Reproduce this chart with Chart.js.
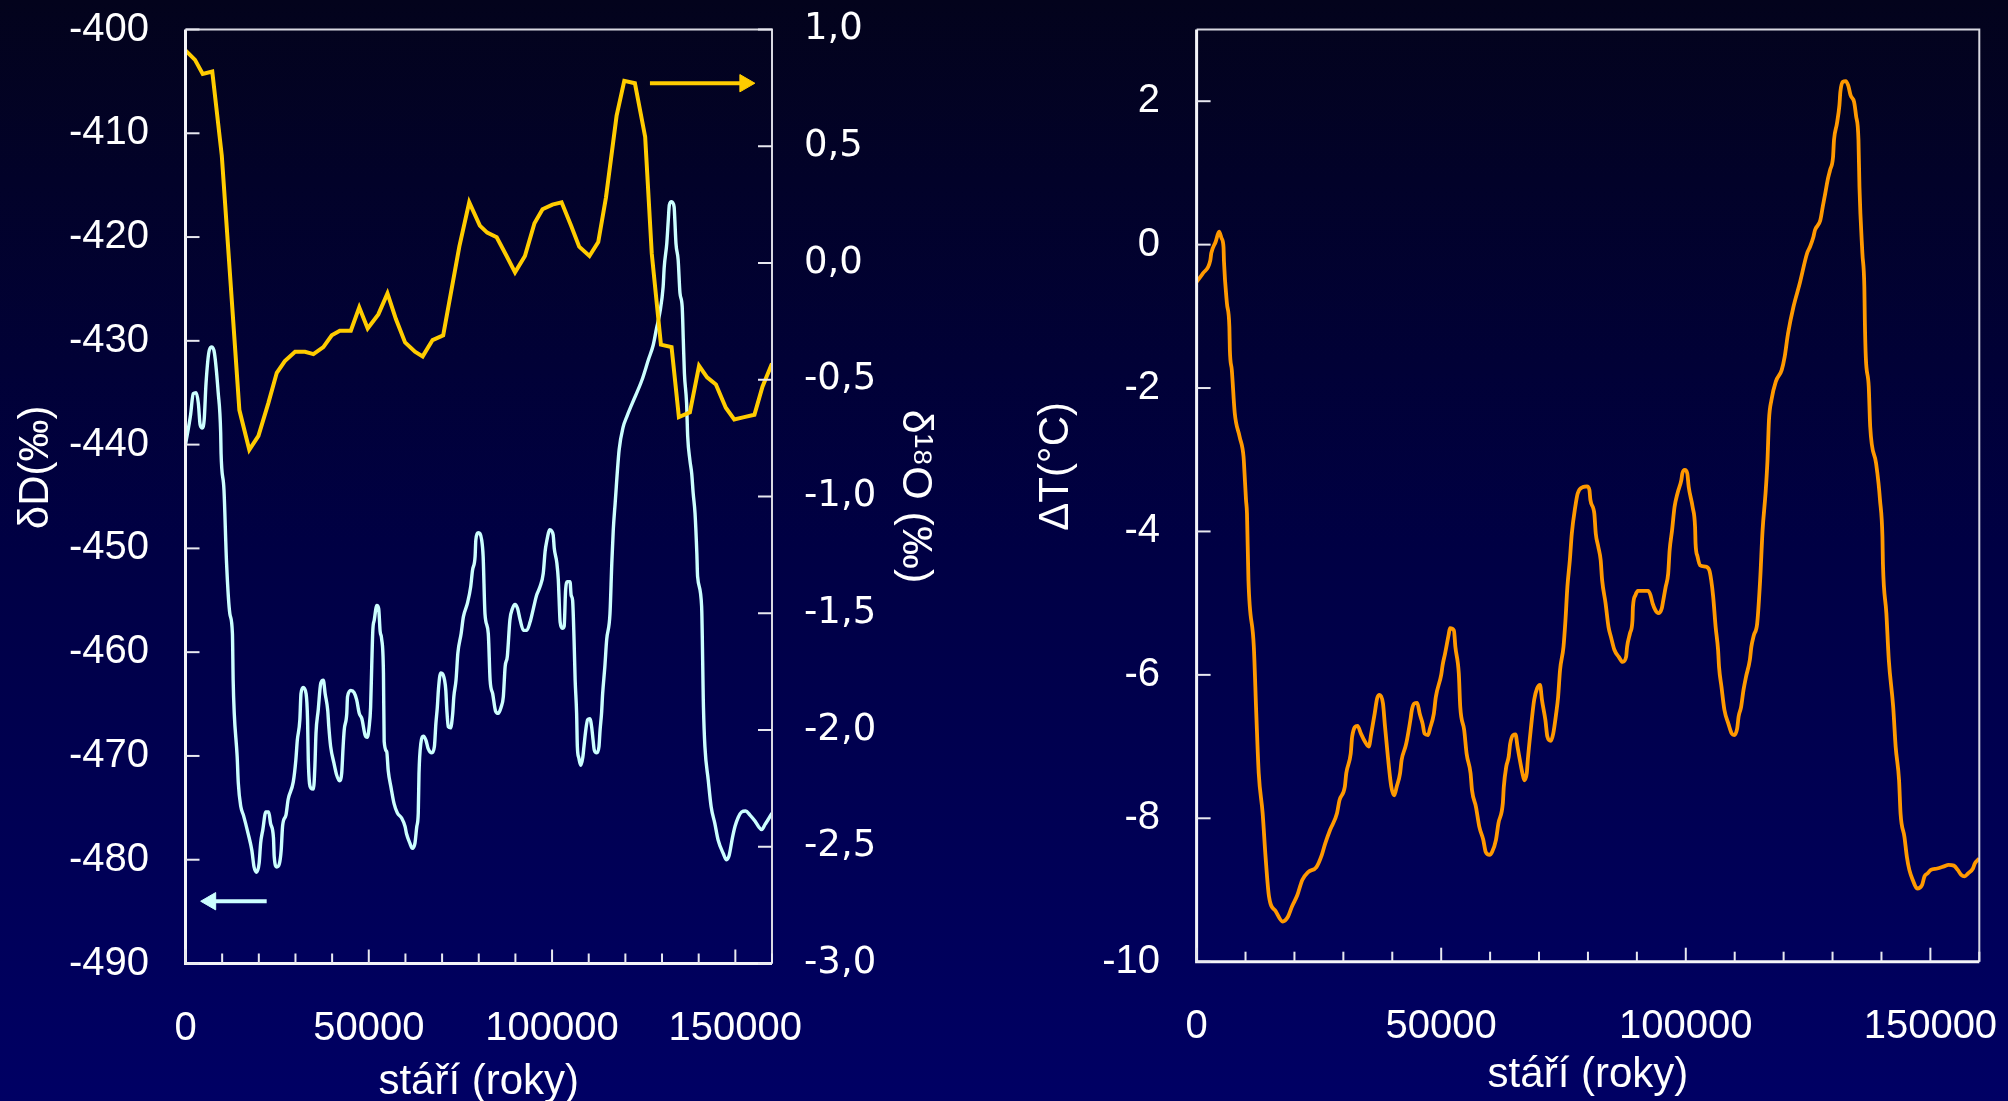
<!DOCTYPE html>
<html><head><meta charset="utf-8">
<script src="https://cdn.jsdelivr.net/npm/chart.js@4.4.1/dist/chart.umd.min.js"></script>
<style>
html,body{margin:0;padding:0;width:2008px;height:1101px;overflow:hidden;
background:linear-gradient(to bottom,#03031c 0%,#000044 50%,#000064 100%);}
canvas{position:absolute;top:0;}
#cA{left:0}
#cB{left:1000px}
</style></head><body>
<canvas id="cA" width="1000" height="1101"></canvas>
<canvas id="cB" width="1008" height="1101"></canvas>
<script>
// ---------- DATA ----------
const o18Age = [0,2600,4700,7300,9900,14700,17400,19900,22600,24900,27100,29900,32600,34900,37600,39900,42100,45100,47400,49700,52600,55100,57400,59900,62600,64700,67400,70300,74700,77400,80300,82300,84900,87600,89900,92600,95200,97400,100100,102600,105200,107400,110200,112600,114700,117600,119700,122600,125400,127200,129700,132600,134600,137600,140100,142300,144700,147400,149700,152400,155200,157400,160000];
const o18Val = [0.91,0.87,0.81,0.82,0.46,-0.63,-0.80,-0.74,-0.60,-0.47,-0.42,-0.38,-0.38,-0.39,-0.36,-0.31,-0.29,-0.29,-0.19,-0.28,-0.22,-0.13,-0.24,-0.34,-0.38,-0.40,-0.33,-0.31,0.07,0.26,0.16,0.13,0.11,0.03,-0.04,0.03,0.17,0.23,0.25,0.26,0.16,0.07,0.03,0.09,0.28,0.63,0.78,0.77,0.54,0.04,-0.35,-0.36,-0.66,-0.64,-0.44,-0.49,-0.52,-0.62,-0.67,-0.66,-0.65,-0.53,-0.43];

const dDAge = [0,1400,2100,2900,3500,4000,4600,5100,5600,6500,7200,7900,8900,9600,9700,10500,11200,12100,12800,13000,13300,14100,14400,15100,15800,17100,18100,18700,19400,20100,20500,21100,21900,22700,23200,24000,24200,24900,25600,26100,26500,27400,28000,29400,30100,30500,31200,31500,32100,32900,33300,33500,34200,34900,35300,35600,36200,36900,37600,38100,38800,39100,39600,40500,41200,42000,42600,43000,43300,44000,44200,45100,46000,46700,47400,48100,49000,49600,50100,50500,50800,51100,51500,52200,52700,53100,53500,54000,54200,54900,55300,56100,56900,57800,59000,59900,60300,61200,61900,62600,63100,63500,63700,64200,64900,65600,66200,67200,67900,68300,68700,69000,69600,70300,71000,71300,71700,72300,72900,73200,73800,74300,75200,75800,76900,77800,78300,79000,79200,79900,80800,81200,81700,82600,83100,83800,84600,85300,86100,86700,87200,87800,88500,89200,89900,90600,91300,92200,93100,94000,94900,95800,96700,97600,98100,98500,99400,100300,100600,101300,101700,101900,102200,102800,103300,103700,104200,104900,105200,105600,106000,106300,106700,106900,107300,107800,108400,108700,109200,109700,110300,110800,111200,111500,112200,112800,113100,113500,113800,114400,114900,115800,116300,116700,117200,118300,119400,120400,121900,124500,126300,127600,128500,129400,130300,130600,131300,131700,132000,132600,133300,133500,133800,134400,134900,135500,135800,136100,136700,137000,137600,138100,138500,139000,139500,139700,140800,141300,141700,142600,143400,144400,145300,146700,147600,148300,149200,149900,150800,151700,152800,154000,155400,156300,157200,158100,159000,160000];
const dDVal = [-440.0,-437.1,-435.1,-435.0,-436.0,-438.1,-438.4,-437.6,-434.1,-430.9,-430.6,-431.2,-434.9,-438.9,-440.8,-444.4,-451.4,-456.3,-458.2,-462.7,-465.9,-470.1,-472.6,-474.9,-475.7,-477.5,-479.1,-480.7,-481.2,-480.3,-478.4,-477.1,-475.4,-475.4,-476.5,-477.9,-479.7,-480.7,-480.4,-479.1,-476.7,-475.7,-474.2,-472.5,-470.4,-468.5,-466.5,-464.0,-463.4,-464.0,-466.5,-470.4,-473.1,-473.2,-471.0,-467.8,-465.6,-463.0,-462.7,-464.0,-465.6,-467.2,-469.1,-470.7,-471.8,-472.4,-471.7,-469.1,-467.5,-465.9,-464.3,-463.7,-463.9,-464.6,-465.9,-466.4,-468.0,-468.2,-467.2,-465.3,-461.4,-457.9,-456.9,-455.5,-455.8,-458.0,-458.7,-462.0,-468.6,-469.6,-471.4,-473.1,-474.6,-475.5,-476.0,-476.8,-477.5,-478.4,-478.9,-478.4,-476.8,-475.5,-471.7,-468.8,-468.1,-468.5,-469.3,-469.7,-469.1,-466.9,-465.3,-463.6,-462.0,-462.2,-463.6,-465.6,-467.2,-467.3,-465.9,-464.3,-462.7,-460.1,-458.2,-456.6,-455.3,-453.7,-452.1,-450.8,-449.2,-448.5,-449.2,-450.8,-456.3,-458.2,-462.7,-464.0,-465.7,-465.9,-465.3,-464.3,-461.4,-460.4,-456.9,-455.8,-455.4,-455.8,-456.9,-457.9,-457.9,-457.1,-455.8,-454.5,-453.7,-452.4,-450.3,-449.4,-448.2,-448.7,-450.0,-451.4,-453.0,-454.7,-457.1,-457.7,-457.5,-454.0,-453.2,-453.2,-454.5,-455.0,-458.8,-462.7,-465.9,-469.1,-470.2,-470.9,-470.1,-469.1,-467.5,-466.5,-466.4,-467.2,-468.5,-469.4,-469.7,-469.1,-467.5,-465.9,-464.0,-461.4,-458.8,-456.3,-451.4,-448.2,-445.7,-440.5,-438.3,-437.3,-436.0,-433.8,-431.8,-430.4,-428.8,-427.3,-424.8,-422.9,-420.6,-418.4,-416.9,-416.6,-417.1,-418.4,-420.6,-422.2,-425.4,-426.7,-429.9,-433.1,-436.0,-439.2,-441.5,-442.8,-444.7,-446.6,-450.5,-452.7,-455.6,-465.3,-469.1,-472.3,-474.9,-476.5,-478.1,-479.4,-480.0,-479.6,-477.9,-476.8,-475.9,-475.4,-475.3,-475.7,-476.3,-476.8,-477.1,-476.6,-476.1,-475.5];

const dTAge = [0,1300,2800,3000,3900,4600,5100,5500,5600,6200,6700,6800,7200,7800,8800,9600,9800,10100,10300,10600,11700,12200,12700,13500,14100,14800,16200,17600,18700,19500,20600,21600,22800,24500,25600,26300,27300,28700,29200,30300,30600,31500,31800,32900,33600,34400,35200,35700,36400,36900,37400,38100,38500,39100,39800,40400,40900,41600,41900,42700,43000,43700,44000,44500,45100,45600,46200,46600,47300,47700,48500,48900,50000,50300,50800,51500,51800,52600,52900,53600,53900,54700,55200,56000,56300,57100,57800,58600,59100,59900,60400,61200,61700,62600,62800,63300,63800,64100,64700,65200,65600,66200,66600,67000,67500,67700,68300,69000,69600,70200,70600,71300,71700,72400,72900,73500,73900,74300,75000,75400,75800,76300,76700,77400,77900,79000,79800,80300,80500,81300,81600,82100,82600,82900,83600,84200,84700,85400,86300,87100,87800,88000,88600,89100,89200,89700,90200,91300,92300,92800,93200,93800,94400,95100,95400,95900,96400,96700,97200,97700,98300,99100,99300,99800,100300,100600,101400,101900,102000,102400,102900,104000,104800,105200,105600,106100,106600,106800,107300,107900,108700,109400,109900,110500,110800,111300,111800,112300,113100,113400,113900,114600,115200,115700,116300,116700,117000,117500,118400,119600,120200,120900,122000,123300,124800,125400,126100,126400,127500,128000,128500,129000,129500,130100,130300,130900,131400,131600,132100,132700,133200,133700,134400,134800,135300,135500,136100,136500,136600,136800,137400,137700,138900,139400,139700,140200,140300,141000,141500,142400,142900,143600,143900,144700,145200,145700,146400,147300,148300,148800,149400,150100,151400,152800,153700,154800,155600,156300,157000,157700,158700,159100,160000];
const dTVal = [-0.52,-0.40,-0.22,-0.12,0.04,0.18,0.09,-0.03,-0.24,-0.82,-1.15,-1.47,-1.75,-2.35,-2.68,-2.96,-3.19,-3.56,-3.75,-4.68,-5.61,-6.54,-7.37,-7.93,-8.54,-9.09,-9.30,-9.44,-9.37,-9.23,-9.07,-8.86,-8.75,-8.68,-8.51,-8.35,-8.16,-7.93,-7.75,-7.56,-7.37,-7.10,-6.86,-6.71,-6.82,-6.93,-7.00,-6.82,-6.54,-6.33,-6.28,-6.40,-6.71,-7.14,-7.56,-7.68,-7.56,-7.37,-7.19,-7.00,-6.91,-6.63,-6.49,-6.40,-6.39,-6.54,-6.68,-6.82,-6.84,-6.75,-6.54,-6.31,-6.00,-5.86,-5.70,-5.45,-5.35,-5.38,-5.61,-5.98,-6.45,-6.77,-7.10,-7.37,-7.61,-7.84,-8.12,-8.30,-8.47,-8.51,-8.47,-8.30,-8.07,-7.79,-7.56,-7.28,-7.14,-6.96,-6.84,-6.83,-7.00,-7.23,-7.37,-7.47,-7.37,-7.19,-6.77,-6.35,-6.19,-6.14,-6.35,-6.63,-6.86,-6.92,-6.82,-6.54,-6.31,-5.93,-5.61,-5.24,-4.77,-4.40,-4.03,-3.66,-3.47,-3.38,-3.37,-3.42,-3.56,-3.75,-4.03,-4.21,-4.40,-4.68,-5.00,-5.33,-5.47,-5.65,-5.75,-5.82,-5.75,-5.61,-5.42,-5.24,-5.05,-4.89,-4.83,-4.83,-4.83,-4.89,-5.00,-5.10,-5.14,-5.07,-4.96,-4.77,-4.59,-4.26,-3.98,-3.66,-3.47,-3.28,-3.19,-3.14,-3.19,-3.38,-3.66,-3.94,-4.17,-4.35,-4.47,-4.49,-4.54,-4.68,-4.91,-5.33,-5.65,-5.89,-6.17,-6.49,-6.68,-6.82,-6.84,-6.75,-6.58,-6.45,-6.21,-6.03,-5.79,-5.61,-5.45,-5.28,-4.68,-3.98,-3.47,-3.01,-2.45,-2.17,-1.91,-1.75,-1.57,-1.24,-0.87,-0.54,-0.12,-0.03,0.11,0.20,0.34,0.53,0.71,0.90,1.04,1.22,1.46,1.69,1.94,2.13,2.27,2.28,2.22,2.08,1.99,1.80,1.46,0.81,-0.12,-0.59,-1.05,-1.57,-1.98,-2.54,-3.05,-3.33,-3.56,-4.08,-4.45,-5.14,-5.79,-6.45,-7.00,-7.47,-7.93,-8.26,-8.54,-8.72,-8.86,-8.98,-8.93,-8.81,-8.77,-8.72,-8.70,-8.67,-8.65,-8.66,-8.72,-8.79,-8.81,-8.77,-8.70,-8.63,-8.56];

// arrows (series indicators)
const arrowO18Age = [126700, 152600];
const arrowO18Val = [0.77, 0.77];
const arrowDAge = [22150, 6870];
const arrowDVal = [-484, -484];

// ticks
const xTicks = [0,10000,20000,30000,40000,50000,60000,70000,80000,90000,100000,110000,120000,130000,140000,150000,160000];
const xLabelTicks = [0,50000,100000,150000];
const dDTicks = [-490,-480,-470,-460,-450,-440,-430,-420,-410,-400];
const o18Ticks = [-3,-2.5,-2,-1.5,-1,-0.5,0,0.5,1];
const dTTicks = [-10,-8,-6,-4,-2,0,2];

// ---------- STYLE ----------
const SANS = "'Liberation Sans', Arial, sans-serif";
const WIDE = "'DejaVu Sans', Verdana, sans-serif";
const WHITE = '#ffffff';
const YELLOW = '#ffcc00';
const CYAN = '#ccffff';
const ORANGE = '#ff9900';
const NB = '\u00a0';

const pts = (xs, ys) => xs.map((x, i) => ({x: x, y: ys[i]}));
const setTicks = vals => s => { s.ticks = vals.map(v => ({value: v})); };
const fixW = w => s => { s.width = w; s.paddingTop = 0; s.paddingBottom = 0; s.paddingLeft = 0; s.paddingRight = 0; };
const fixH = h => s => { s.height = h; s.paddingTop = 0; s.paddingBottom = 0; s.paddingLeft = 0; s.paddingRight = 0; };

const framePlugin = {
  id: 'frame',
  afterDatasetsDraw(chart) {
    const {ctx, chartArea: a, scales} = chart;
    ctx.save();
    ctx.lineCap = 'butt';
    ctx.strokeStyle = '#d8d8e0';
    ctx.lineWidth = 2;
    ctx.beginPath();
    ctx.moveTo(a.left, a.top); ctx.lineTo(a.right, a.top); ctx.lineTo(a.right, a.bottom);
    ctx.stroke();
    ctx.strokeStyle = '#f4f4f8';
    ctx.lineWidth = 3;
    ctx.beginPath();
    ctx.moveTo(a.left, a.top); ctx.lineTo(a.left, a.bottom); ctx.lineTo(a.right, a.bottom);
    ctx.stroke();
    ctx.lineWidth = 2;
    ctx.strokeStyle = '#e8e8f0';
    Object.values(scales).forEach(s => {
      s.ticks.forEach(t => {
        ctx.beginPath();
        if (s.isHorizontal()) {
          const px = s.getPixelForValue(t.value);
          const len = xLabelTicks.includes(t.value) ? 14 : 10;
          ctx.moveTo(px, a.bottom); ctx.lineTo(px, a.bottom - len);
        } else {
          const py = s.getPixelForValue(t.value);
          if (s.position === 'left') { ctx.moveTo(a.left, py); ctx.lineTo(a.left + 14, py); }
          else { ctx.moveTo(a.right, py); ctx.lineTo(a.right - 14, py); }
        }
        ctx.stroke();
      });
    });
    ctx.restore();
  }
};

function xScale(h, titleLH) {
  return {
    type: 'linear', min: 0, max: 160000,
    afterBuildTicks: setTicks(xTicks),
    afterFit: fixH(h),
    grid: {display: false, drawTicks: false}, border: {display: false},
    ticks: {autoSkip: false, maxRotation: 0, minRotation: 0, padding: 41, color: WHITE,
            font: {family: SANS, size: 40},
            callback: v => xLabelTicks.includes(v) ? String(v) : ''},
    title: {display: true, text: 'stáří (roky)', color: WHITE, font: {family: SANS, size: 42, lineHeight: titleLH},
            padding: {top: 0, bottom: 0}}
  };
}

Chart.defaults.font.family = SANS;

new Chart(document.getElementById('cA'), {
  type: 'line',
  data: {datasets: [
    {data: pts(o18Age, o18Val), yAxisID: 'y1', borderColor: YELLOW, borderWidth: 4, pointRadius: 0, tension: 0},
    {data: pts(dDAge, dDVal), yAxisID: 'y', borderColor: CYAN, borderWidth: 3.4, pointRadius: 0, cubicInterpolationMode: 'monotone'},
    {data: pts(arrowO18Age, arrowO18Val), yAxisID: 'y1', borderColor: YELLOW, borderWidth: 4,
     pointRadius: [0, 10], pointStyle: 'triangle', pointRotation: [0, 90],
     pointBackgroundColor: YELLOW, pointBorderColor: YELLOW, pointBorderWidth: 1},
    {data: pts(arrowDAge, arrowDVal), yAxisID: 'y', borderColor: CYAN, borderWidth: 4,
     pointRadius: [0, 10], pointStyle: 'triangle', pointRotation: [0, 270],
     pointBackgroundColor: CYAN, pointBorderColor: CYAN, pointBorderWidth: 1}
  ]},
  options: {
    responsive: false, animation: false, devicePixelRatio: 1,
    layout: {autoPadding: false, padding: {top: 29.5, left: 0, right: 0, bottom: 0}},
    plugins: {legend: {display: false}, tooltip: {enabled: false}},
    scales: {
      x: xScale(137.5, 0.9),
      y: {
        position: 'left', min: -490, max: -400,
        afterBuildTicks: setTicks(dDTicks),
        afterFit: fixW(185.5),
        grid: {display: false, drawTicks: false}, border: {display: false},
        ticks: {padding: 36.5, color: WHITE, font: {family: SANS, size: 40}, callback: v => String(v)},
        title: {display: true, text: NB.repeat(5) + 'δD(‰)', color: WHITE, font: {family: SANS, size: 42}, padding: {top: 11}}
      },
      y1: {
        position: 'right', min: -3, max: 1,
        afterBuildTicks: setTicks(o18Ticks),
        afterFit: fixW(228),
        grid: {display: false, drawTicks: false}, border: {display: false},
        ticks: {padding: 32, color: WHITE, font: {family: WIDE, size: 37},
                callback: v => v.toFixed(1).replace('.', ',')},
        title: {display: true, text: 'δ¹⁸O (‰)', color: WHITE, font: {family: SANS, size: 43}, padding: {top: 59}}
      }
    }
  },
  plugins: [framePlugin]
});

new Chart(document.getElementById('cB'), {
  type: 'line',
  data: {datasets: [
    {data: pts(dTAge, dTVal), borderColor: ORANGE, borderWidth: 3.8, pointRadius: 0, cubicInterpolationMode: 'monotone'}
  ]},
  options: {
    responsive: false, animation: false, devicePixelRatio: 1,
    layout: {autoPadding: false, padding: {top: 29.5, left: 0, right: 28.7, bottom: 0}},
    plugins: {legend: {display: false}, tooltip: {enabled: false}},
    scales: {
      x: xScale(139.3, 1.2),
      y: {
        position: 'left', min: -10, max: 3,
        afterBuildTicks: setTicks(dTTicks),
        afterFit: fixW(196.6),
        grid: {display: false, drawTicks: false}, border: {display: false},
        ticks: {padding: 36.6, color: WHITE, font: {family: SANS, size: 40}, callback: v => String(v)},
        title: {display: true, text: NB.repeat(5) + 'ΔT(°C)', color: WHITE, font: {family: SANS, size: 42}, padding: {top: 31.5}}
      }
    }
  },
  plugins: [framePlugin]
});
</script>
</body></html>
